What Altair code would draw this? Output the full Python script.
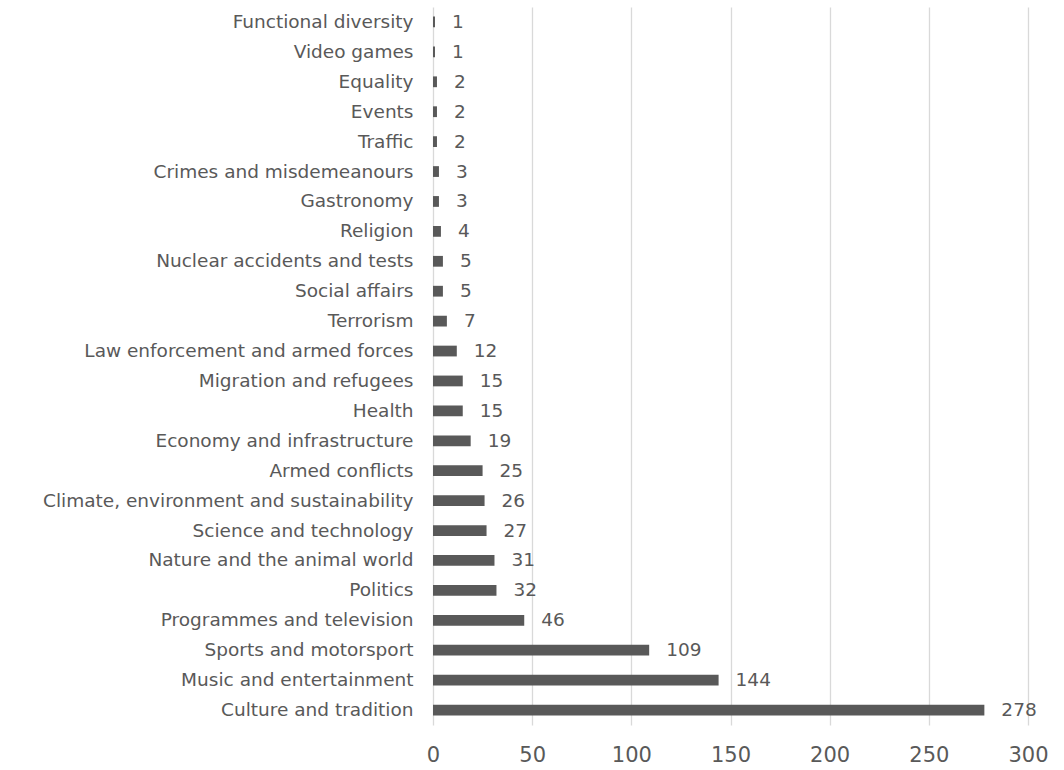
import altair as alt
import pandas as pd

categories = [
    "Functional diversity", "Video games", "Equality", "Events", "Traffic",
    "Crimes and misdemeanours", "Gastronomy", "Religion", "Nuclear accidents and tests",
    "Social affairs", "Terrorism", "Law enforcement and armed forces",
    "Migration and refugees", "Health", "Economy and infrastructure", "Armed conflicts",
    "Climate, environment and sustainability", "Science and technology",
    "Nature and the animal world", "Politics", "Programmes and television",
    "Sports and motorsport", "Music and entertainment", "Culture and tradition",
]
values = [1, 1, 2, 2, 2, 3, 3, 4, 5, 5, 7, 12, 15, 15, 19, 25, 26, 27, 31, 32, 46, 109, 144, 278]
x_ticks = [0, 50, 100, 150, 200, 250, 300]

df = pd.DataFrame({"category": categories, "value": values})

FONT = "DejaVu Sans"
GRAY = "#595959"

y_enc = alt.Y("category:N", sort=categories, title=None,
              scale=alt.Scale(paddingInner=0.64, paddingOuter=0.32),
              axis=alt.Axis(domain=False, ticks=False, labelPadding=20,
                            labelFontSize=18.5, labelColor=GRAY, labelFont=FONT,
                            labelFontWeight="normal", labelLimit=500))
x_enc = alt.X("value:Q", title=None,
              scale=alt.Scale(domain=[0, 300], nice=False),
              axis=alt.Axis(values=x_ticks, domain=False, ticks=False, grid=True,
                            gridColor="#d9d9d9", gridWidth=1.3, labelPadding=19,
                            labelFlush=False,
                            labelFontSize=21, labelColor=GRAY, labelFont=FONT))

bars = alt.Chart(df).mark_bar(color=GRAY).encode(x=x_enc, y=y_enc)
labels = alt.Chart(df).mark_text(align="left", baseline="middle", dx=17,
                                 fontSize=18.5, color=GRAY, font=FONT).encode(
    x="value:Q", y=alt.Y("category:N", sort=categories), text="value:Q")

chart = (bars + labels).properties(
    width=595, height=718,
    background="white",
    autosize=alt.AutoSizeParams(type="none"),
    padding={"left": 433, "top": 7, "right": 36, "bottom": 45},
).configure_view(stroke=None)

chart.save("out.html", embed_options={"renderer": "svg", "actions": False})
